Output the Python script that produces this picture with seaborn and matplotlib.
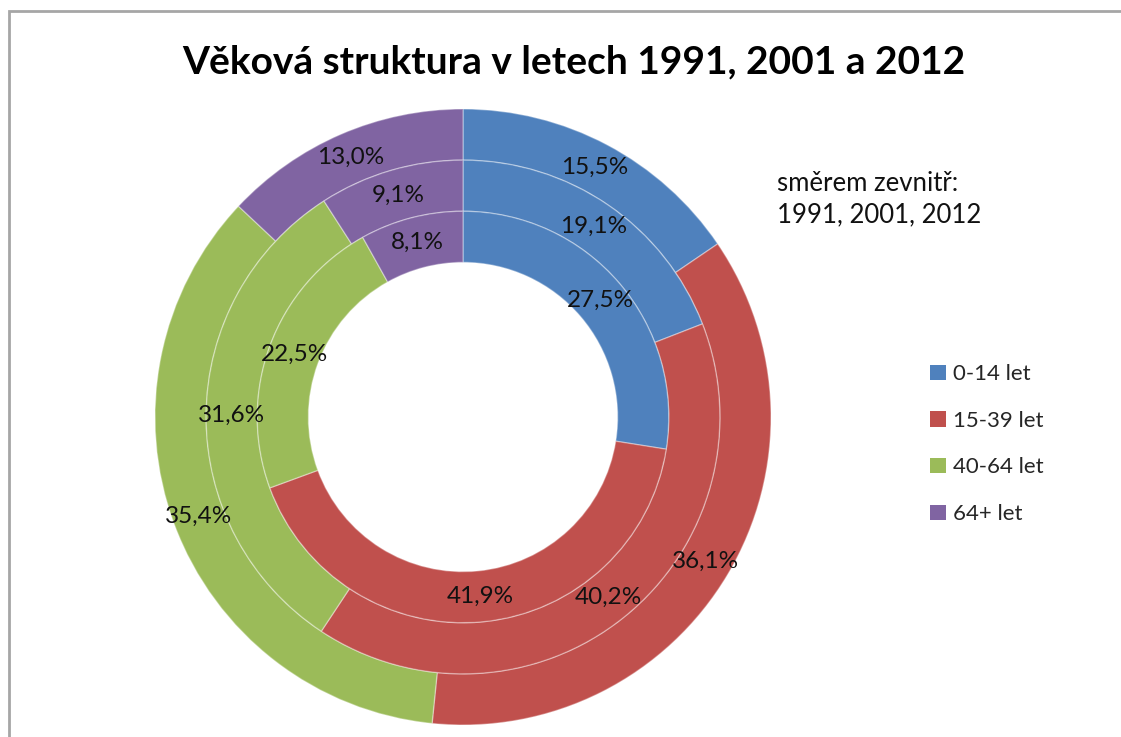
import matplotlib
matplotlib.use("Agg")
import matplotlib.pyplot as plt
from matplotlib.patches import Patch, Rectangle
import seaborn as sns

sns.set_theme(style="white")
plt.rcParams['font.family'] = ['Lato', 'DejaVu Sans']

categories = ["0-14 let", "15-39 let", "40-64 let", "64+ let"]
years = ["1991", "2001", "2012"]
values_1991 = [15.5, 36.1, 35.4, 13.0]
values_2001 = [19.1, 40.2, 31.6, 9.1]
values_2012 = [27.5, 41.9, 22.5, 8.1]
colors = ["#4F81BD", "#C0504D", "#9BBB59", "#8064A2"]

title = "Věková struktura v letech 1991, 2001 a 2012"
note = "směrem zevnitř:\n1991, 2001, 2012"

W, H = 1121, 737
fig = plt.figure(figsize=(W / 100, H / 100), dpi=100)

cx, cy, R = 463, 417, 308
ax = fig.add_axes([(cx - R) / W, (H - cy - R) / H, 2 * R / W, 2 * R / H])

ring_w = 0.166
rings = [values_1991, values_2001, values_2012]
for i, vals in enumerate(rings):
    radius = 1.0 - i * ring_w
    pd_ = (radius - ring_w / 2) / radius
    wedges, texts, autotexts = ax.pie(
        vals, radius=radius, colors=colors, startangle=90, counterclock=False,
        autopct=lambda p: f"{p:.1f}%".replace(".", ","), pctdistance=pd_,
        wedgeprops=dict(width=ring_w, edgecolor=(1, 1, 1, 0.35), linewidth=1.0),
        textprops=dict(fontsize=17.5, color="#111111"))
ax.set_xlim(-1, 1)
ax.set_ylim(-1, 1)
ax.axis("off")

fig.text(0.512, 1 - 62 / H, title, ha="center", va="center",
         fontsize=28, fontweight="bold", color="#000000")

fig.text(777 / W, 1 - 199 / H, note, ha="left", va="center",
         fontsize=18.5, color="#111111", linespacing=1.3)

handles = [Patch(facecolor=c, edgecolor="none") for c in colors]
fig.legend(handles, categories, loc="upper left",
           bbox_to_anchor=(919 / W, 1 - 353 / H), frameon=False,
           fontsize=16, handlelength=0.7, handleheight=0.7,
           handletextpad=0.35, labelspacing=1.2, borderpad=0)

fig.add_artist(Rectangle((9 / W, -0.05), 1.1, 1 - 11 / H + 0.05,
                         transform=fig.transFigure, fill=False,
                         edgecolor="#A6A6A6", linewidth=2, clip_on=False))

fig.savefig("out.png", dpi=100)
